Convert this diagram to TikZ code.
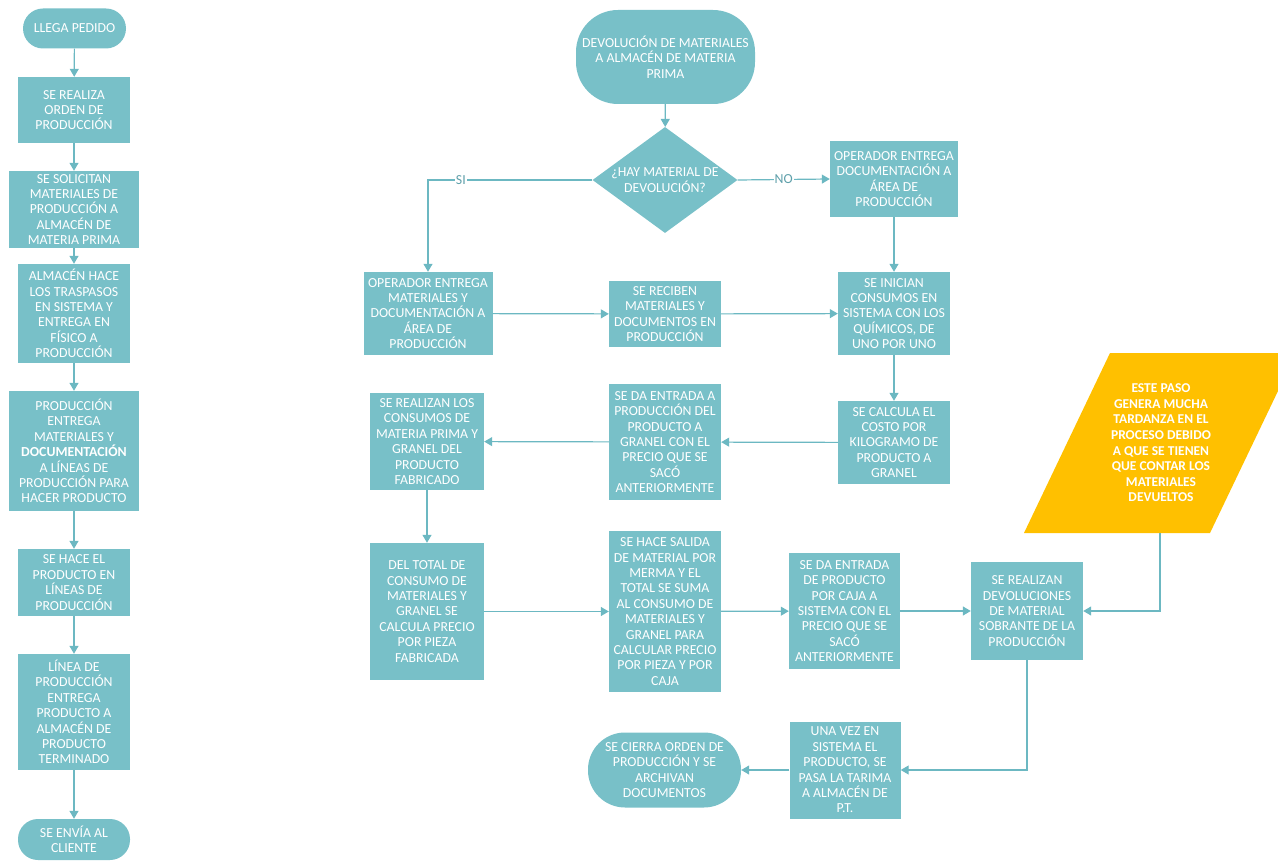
\documentclass[tikz,border=0pt]{standalone}
\usepackage{fontspec}
\setmainfont{Carlito}
\usetikzlibrary{arrows.meta,shapes.geometric}
\definecolor{tealf}{RGB}{120,192,200}
\definecolor{teall}{RGB}{108,184,194}
\definecolor{labc}{RGB}{95,160,170}
\definecolor{yel}{RGB}{255,192,0}
\tikzset{
  box/.style={rectangle, fill=tealf, text=white, inner sep=0pt, align=center,
    font=\fontsize{13.8}{15.4}\selectfont},
  stad/.style={box, rounded corners=#1},
  txt/.style={text=white, inner sep=0pt, align=center, font=\fontsize{13.8}{15.4}\selectfont},
  arr/.style={draw=teall, line width=1.2pt, -{Triangle[length=8pt,width=9pt]}},
  lab/.style={fill=white, text=labc, inner sep=1pt, font=\fontsize{13.8}{15.4}\selectfont},
}
\begin{document}
\begin{tikzpicture}[x=1pt,y=-1pt]
\useasboundingbox (0,0) rectangle (1278,861);
% left column
\node[stad=20pt, minimum width=103, minimum height=40] (n1) at (74.5,28.5) {LLEGA PEDIDO};
\node[box, minimum width=112, minimum height=66] (n2) at (74,110) {SE REALIZA\\ORDEN DE\\PRODUCCIÓN};
\node[box, minimum width=130, minimum height=77] (n3) at (74,209.5) {SE SOLICITAN\\MATERIALES DE\\PRODUCCIÓN A\\ALMACÉN DE\\MATERIA PRIMA};
\node[box, minimum width=112, minimum height=99] (n4) at (74,313.5) {ALMACÉN HACE\\LOS TRASPASOS\\EN SISTEMA Y\\ENTREGA EN\\FÍSICO A\\PRODUCCIÓN};
\node[box, minimum width=130, minimum height=120] (n5) at (74,451) {PRODUCCIÓN\\ENTREGA\\MATERIALES Y\\\textbf{DOCUMENTACIÓN}\\A LÍNEAS DE\\PRODUCCIÓN PARA\\HACER PRODUCTO};
\node[box, minimum width=112, minimum height=67] (n6) at (74,582.5) {SE HACE EL\\PRODUCTO EN\\LÍNEAS DE\\PRODUCCIÓN};
\node[box, minimum width=112, minimum height=116] (n7) at (74,712) {LÍNEA DE\\PRODUCCIÓN\\ENTREGA\\PRODUCTO A\\ALMACÉN DE\\PRODUCTO\\TERMINADO};
\node[stad=20pt, minimum width=112, minimum height=41] (n8) at (74,839.5) {SE ENVÍA AL\\CLIENTE};
\foreach \a/\b in {n1/n2,n2/n3,n3/n4,n4/n5,n5/n6,n6/n7,n7/n8}
  \draw[arr] (\a) -- (\b);
% right part
\node[stad=42pt, minimum width=179, minimum height=94] (r0) at (665.5,57) {DEVOLUCIÓN DE MATERIALES\\A ALMACÉN DE MATERIA\\PRIMA};
\node[diamond, fill=tealf, minimum width=145, minimum height=106, inner sep=0pt] (dec) at (665,180) {};
\node[txt] (dect) at (665,180) {¿HAY MATERIAL DE\\DEVOLUCIÓN?};
\node[box, minimum width=128, minimum height=76] (op2) at (894,179) {OPERADOR ENTREGA\\DOCUMENTACIÓN A\\ÁREA DE\\PRODUCCIÓN};
\node[box, minimum width=129, minimum height=83] (op1) at (428,313.5) {OPERADOR ENTREGA\\MATERIALES Y\\DOCUMENTACIÓN A\\ÁREA DE\\PRODUCCIÓN};
\node[box, minimum width=112, minimum height=66] (rec) at (665,314) {SE RECIBEN\\MATERIALES Y\\DOCUMENTOS EN\\PRODUCCIÓN};
\node[box, minimum width=112, minimum height=83] (ini) at (894,313.5) {SE INICIAN\\CONSUMOS EN\\SISTEMA CON LOS\\QUÍMICOS, DE\\UNO POR UNO};
\node[box, minimum width=112, minimum height=83] (cal) at (894,442.5) {SE CALCULA EL\\COSTO POR\\KILOGRAMO DE\\PRODUCTO A\\GRANEL};
\node[box, minimum width=112, minimum height=116] (ent1) at (665,442) {SE DA ENTRADA A\\PRODUCCIÓN DEL\\PRODUCTO A\\GRANEL CON EL\\PRECIO QUE SE\\SACÓ\\ANTERIORMENTE};
\node[box, minimum width=114, minimum height=97] (con) at (427,441.5) {SE REALIZAN LOS\\CONSUMOS DE\\MATERIA PRIMA Y\\GRANEL DEL\\PRODUCTO\\FABRICADO};
\node[box, minimum width=114, minimum height=137] (tot) at (427,611.5) {DEL TOTAL DE\\CONSUMO DE\\MATERIALES Y\\GRANEL SE\\CALCULA PRECIO\\POR PIEZA\\FABRICADA};
\node[box, minimum width=112, minimum height=161] (sal) at (665,611.5) {SE HACE SALIDA\\DE MATERIAL POR\\MERMA Y EL\\TOTAL SE SUMA\\AL CONSUMO DE\\MATERIALES Y\\GRANEL PARA\\CALCULAR PRECIO\\POR PIEZA Y POR\\CAJA};
\node[box, minimum width=111, minimum height=116] (ent2) at (844.5,611) {SE DA ENTRADA\\DE PRODUCTO\\POR CAJA A\\SISTEMA CON EL\\PRECIO QUE SE\\SACÓ\\ANTERIORMENTE};
\node[box, minimum width=112, minimum height=98] (dev) at (1027,611) {SE REALIZAN\\DEVOLUCIONES\\DE MATERIAL\\SOBRANTE DE LA\\PRODUCCIÓN};
\node[box, minimum width=111, minimum height=97] (una) at (845,770) {UNA VEZ EN\\SISTEMA EL\\PRODUCTO, SE\\PASA LA TARIMA\\A ALMACÉN DE\\P.T.};
\node[stad=37pt, minimum width=153, minimum height=75] (cie) at (664.5,770) {SE CIERRA ORDEN DE\\PRODUCCIÓN Y SE\\ARCHIVAN\\DOCUMENTOS};
% note
\fill[yel] (1110,353) -- (1278,353) -- (1278,391) -- (1210,533) -- (1024,533) -- cycle;
\node[txt, font=\bfseries\fontsize{13.5}{15.6}\selectfont] (note) at (1161,443) {ESTE PASO\\GENERA MUCHA\\TARDANZA EN EL\\PROCESO DEBIDO\\A QUE SE TIENEN\\QUE CONTAR LOS\\MATERIALES\\DEVUELTOS};
\coordinate (noteb) at (1160,533);
% connectors
\draw[arr] (r0) -- (dec);
\draw[arr] (dec.west) -| node[lab, pos=0.4] {SI} (op1.north);
\draw[arr] (dec.east) -- node[lab] {NO} (op2.west);
\draw[arr] (op2) -- (ini);
\draw[arr] (op1) -- (rec);
\draw[arr] (rec) -- (ini);
\draw[arr] (ini) -- (cal);
\draw[arr] (cal) -- (ent1);
\draw[arr] (ent1) -- (con);
\draw[arr] (con) -- (tot);
\draw[arr] (tot) -- (sal);
\draw[arr] (sal) -- (ent2);
\draw[arr] (ent2) -- (dev);
\draw[arr] (noteb) |- (dev.east);
\draw[arr] (dev.south) |- (una.east);
\draw[arr] (una.west) -- (cie.east);
\end{tikzpicture}
\end{document}
